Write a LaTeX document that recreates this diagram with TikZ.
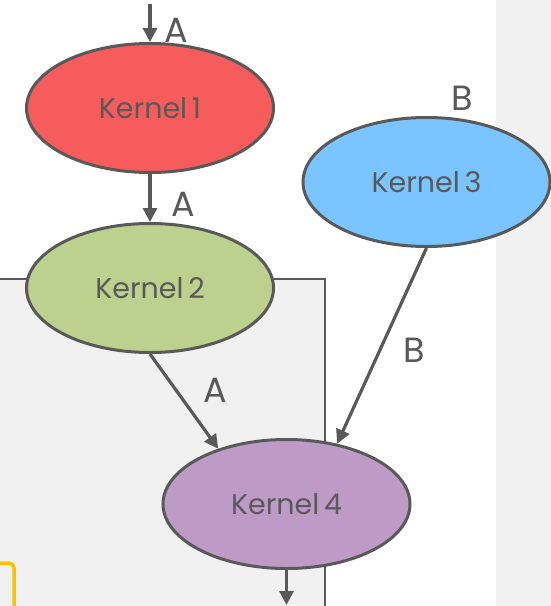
\documentclass[tikz,border=0pt]{standalone}
\usepackage{fontspec}
\setmainfont{Poppins}
\usetikzlibrary{shapes.geometric,arrows.meta}
\definecolor{ink}{HTML}{595959}
\definecolor{panel}{HTML}{F1F1F1}
\definecolor{kred}{HTML}{F65C5C}
\definecolor{kgreen}{HTML}{BBD18D}
\definecolor{kblue}{HTML}{7AC5FF}
\definecolor{kpurple}{HTML}{BE9BC7}
\definecolor{amber}{HTML}{FFC000}
\tikzset{
  kernel/.style={ellipse, draw=ink, line width=3pt, minimum width=247pt,
    minimum height=129pt, inner sep=0pt, text=ink,
    font=\fontsize{28.5}{30}\selectfont},
  flow/.style={draw=ink, line width=3.2pt, -{Triangle[length=14pt,width=14pt]}},
  tag/.style={text=ink, font=\fontsize{35}{37}\selectfont, inner sep=0pt}
}
\begin{document}
\begin{tikzpicture}[x=1pt,y=-1pt]
  \useasboundingbox (0,0) rectangle (551,606);
  \clip (0,0) rectangle (551,606);
  % page background and side strip
  \fill[white] (0,0) rectangle (496,606);
  \fill[panel] (496,0) rectangle (551,606);
  % grey group box behind the lower kernels
  \draw[ink, fill=panel, line width=2.4pt] (-10,279) rectangle (325,620);
  % amber frame corner
  \draw[amber, line width=3.5pt, rounded corners=5pt] (-10,563) -- (14,563) -- (14,620);

  % kernels
  \node[kernel, fill=kred]    (k1) at (150,108) {Kernel\,1};
  \node[kernel, fill=kgreen]  (k2) at (150,288) {Kernel\,2};
  \node[kernel, fill=kblue]   (k3) at (426.5,182) {Kernel\,3};
  \node[kernel, fill=kpurple] (k4) at (286.5,504) {Kernel\,4};

  \coordinate (in) at (150,4);
  \coordinate (out) at (286.5,605);

  % connectors
  \draw[flow] (in) -- (k1.north);
  \draw[flow] (k1.south) -- (k2.north);
  \draw[flow] (k2.south) -- (k4.141);
  \draw[flow] (k3.south) -- (k4.50);
  \draw[flow] (k4.south) -- (out);

  % buffer labels
  \node[tag] (la1) at (176.5,30) {A};
  \node[tag] (la2) at (183,204) {A};
  \node[tag] (la3) at (215,390) {A};
  \node[tag] (lb1) at (414,350) {B};
  \node[tag] (lb2) at (462,98) {B};
\end{tikzpicture}
\end{document}
